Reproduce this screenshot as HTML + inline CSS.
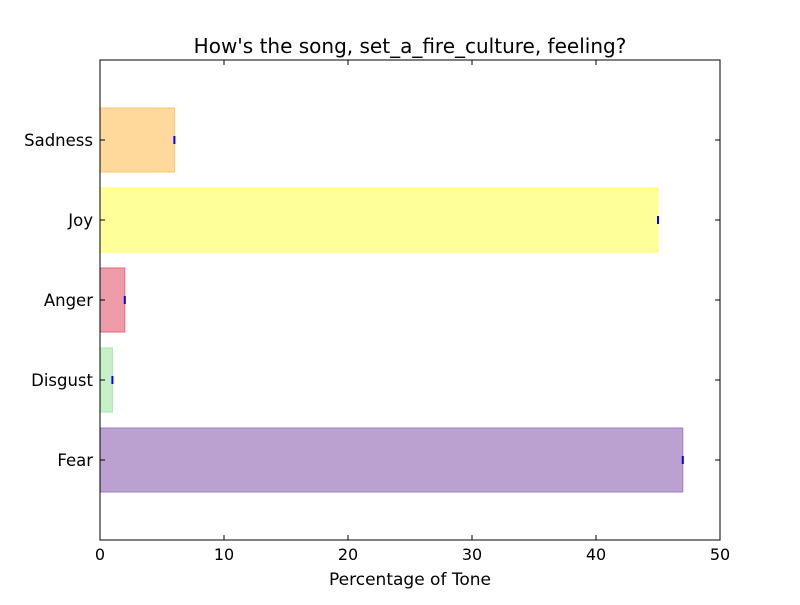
<!DOCTYPE html>
<html><head><meta charset="utf-8"><style>
body{margin:0;background:#fff;}
svg text{font-family:"DejaVu Sans","Liberation Sans",sans-serif;fill:#000;}
</style></head><body>
<svg id="chart" width="800" height="600">
<rect x="0" y="0" width="800" height="600" fill="#fff"/>
<text x="410" y="53" font-size="20" text-anchor="middle">How's the song, set_a_fire_culture, feeling?</text>
<g id="bars"></g>
<g id="axes"></g>
<text x="410" y="585" font-size="17" text-anchor="middle">Percentage of Tone</text>
</svg>
<script>
const categories = ["Fear","Disgust","Anger","Joy","Sadness"];
const values = [47,1,2,45,6];
const fills = ["#bba1d0","#c6f0c6","#ef9ca9","#ffff99","#fed99b"];
const edges = ["#a07fc4","#a8e4a8","#e8687e","#ffff66","#fdc55e"];
const xTicks = [0,10,20,30,40,50];

const L=100,R=720,T=60,B=540;
const xMin=0,xMax=50,yMin=-1,yMax=5;
const sx=v=>L+(v-xMin)/(xMax-xMin)*(R-L);
const sy=v=>B-(v-yMin)/(yMax-yMin)*(B-T);
const NS="http://www.w3.org/2000/svg";
const bars=document.getElementById('bars'), axes=document.getElementById('axes');
function mk(tag,attrs,parent){const e=document.createElementNS(NS,tag);for(const k in attrs)e.setAttribute(k,attrs[k]);parent.appendChild(e);return e;}
const bh=(sy(0)-sy(0.8));
categories.forEach((c,i)=>{
  const r=mk('rect',{x:sx(0),y:sy(i)-bh/2,width:sx(values[i])-sx(0),height:bh,fill:fills[i],stroke:edges[i],'stroke-width':1},bars);
  
  
  const m=mk('line',{x1:sx(values[i]),x2:sx(values[i]),y1:sy(i)-4,y2:sy(i)+4,stroke:'#0000ff','stroke-width':2},bars);
  
  
  mk('line',{x1:L,x2:L+5,y1:sy(i),y2:sy(i),stroke:'#000'},axes);
  mk('line',{x1:R-5,x2:R,y1:sy(i),y2:sy(i),stroke:'#000'},axes);
  const t=mk('text',{x:L-7,y:sy(i)+6,'font-size':16.5,'text-anchor':'end'},axes);
  t.textContent=c;
  
  
});
xTicks.forEach(v=>{
  mk('line',{x1:sx(v),x2:sx(v),y1:B-5,y2:B,stroke:'#000'},axes);
  mk('line',{x1:sx(v),x2:sx(v),y1:T,y2:T+5,stroke:'#000'},axes);
  const t=mk('text',{x:sx(v),y:B+20,'font-size':16,'text-anchor':'middle'},axes);
  t.textContent=v;
  
  
});
const f=mk('rect',{x:L,y:T,width:R-L,height:B-T,fill:'none',stroke:'#000','stroke-width':1},axes);


</script>
</body></html>
